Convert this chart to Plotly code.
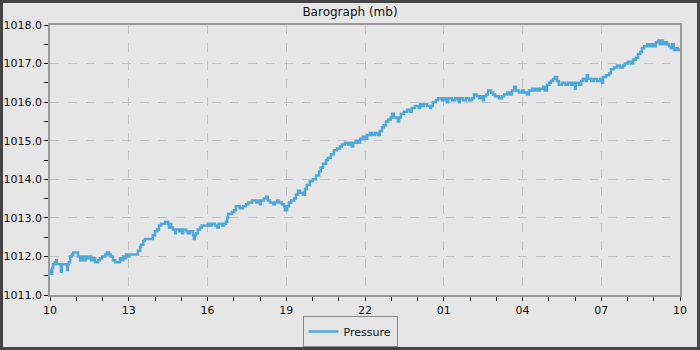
import pandas as pd
import plotly.graph_objects as go

# Minutes after the start (10:00) and pressure readings (mb)
minutes = [0, 2, 5, 7, 11, 14, 16, 23, 25, 27, 37, 39, 41, 43, 46, 50, 53, 62, 64, 69, 71, 75, 78, 80, 82, 87, 89, 94, 98,
           103, 110, 114, 119, 126, 130, 135, 139, 144, 149, 158, 160, 165, 167, 171, 174, 178, 181, 199, 201, 206, 208,
           213, 217, 233, 235, 240, 245, 249, 254, 263, 270, 272, 274, 277, 281, 286, 288, 295, 297, 302, 304, 311, 315,
           320, 327, 329, 331, 334, 338, 343, 347, 354, 361, 366, 370, 377, 382, 386, 393, 398, 402, 405, 407, 416, 421,
           425, 434, 441, 448, 453, 462, 471, 475, 480, 482, 489, 494, 498, 503, 510, 514, 519, 523, 530, 535, 537, 542,
           546, 551, 558, 562, 567, 571, 578, 583, 587, 594, 601, 608, 615, 619, 624, 631, 635, 642, 649, 656, 663, 667,
           674, 681, 686, 690, 693, 699, 704, 709, 715, 720, 725, 731, 736, 743, 750, 754, 759, 763, 768, 773, 779, 782,
           786, 793, 795, 798, 802, 809, 816, 823, 827, 834, 843, 846, 850, 855, 862, 869, 871, 875, 882, 887, 896, 901,
           907, 910, 919, 926, 933, 935, 937, 944, 951, 958, 965, 969, 976, 981, 985, 990, 992, 997, 1001, 1008, 1013,
           1017, 1026, 1033, 1038, 1045, 1051, 1056, 1061, 1065, 1072, 1079, 1083, 1090, 1095, 1102, 1106, 1111, 1115,
           1120, 1127, 1131, 1136, 1141, 1145, 1150, 1154, 1159, 1163, 1170, 1177, 1184, 1191, 1195, 1200, 1202, 1209,
           1214, 1218, 1225, 1227, 1230, 1237, 1243, 1250, 1257, 1262, 1264, 1271, 1278, 1282, 1289, 1296, 1303, 1310,
           1314, 1321, 1328, 1333, 1339, 1344, 1349, 1353, 1358, 1365, 1371, 1376, 1381, 1385, 1390, 1394, 1397, 1401,
           1406, 1410, 1415, 1419, 1422, 1426, 1431, 1435, 1440]

pressure = [1011.65, 1011.55, 1011.70, 1011.80, 1011.85, 1011.90, 1011.80, 1011.80, 1011.60, 1011.80, 1011.80, 1011.65,
            1011.80, 1011.85, 1012.00, 1012.05, 1012.10, 1012.10, 1012.00, 1011.90, 1012.00, 1011.90, 1012.00, 1011.90,
            1012.00, 1011.95, 1012.00, 1011.90, 1011.95, 1011.85, 1011.90, 1011.95, 1012.00, 1012.05, 1012.10, 1012.05,
            1012.00, 1011.90, 1011.85, 1011.85, 1011.95, 1011.90, 1012.00, 1011.95, 1012.05, 1012.00, 1012.05, 1012.05,
            1012.15, 1012.25, 1012.30, 1012.40, 1012.45, 1012.45, 1012.55, 1012.65, 1012.70, 1012.80, 1012.85, 1012.90,
            1012.85, 1012.75, 1012.85, 1012.75, 1012.70, 1012.60, 1012.70, 1012.65, 1012.70, 1012.60, 1012.70, 1012.65,
            1012.60, 1012.65, 1012.55, 1012.45, 1012.55, 1012.60, 1012.70, 1012.75, 1012.80, 1012.80, 1012.85, 1012.80,
            1012.85, 1012.80, 1012.75, 1012.85, 1012.80, 1012.85, 1012.90, 1013.00, 1013.10, 1013.15, 1013.20, 1013.30,
            1013.25, 1013.30, 1013.35, 1013.40, 1013.45, 1013.40, 1013.45, 1013.35, 1013.45, 1013.50, 1013.55, 1013.45,
            1013.40, 1013.35, 1013.40, 1013.45, 1013.40, 1013.35, 1013.30, 1013.20, 1013.30, 1013.40, 1013.45, 1013.50,
            1013.60, 1013.70, 1013.65, 1013.60, 1013.75, 1013.85, 1013.95, 1014.00, 1014.10, 1014.20, 1014.30, 1014.40,
            1014.50, 1014.55, 1014.65, 1014.75, 1014.80, 1014.85, 1014.90, 1014.95, 1014.90, 1014.95, 1014.85, 1014.95,
            1015.00, 1014.95, 1015.05, 1015.10, 1015.05, 1015.15, 1015.20, 1015.15, 1015.20, 1015.15, 1015.25, 1015.35,
            1015.40, 1015.50, 1015.55, 1015.60, 1015.70, 1015.60, 1015.60, 1015.50, 1015.60, 1015.70, 1015.75, 1015.80,
            1015.75, 1015.85, 1015.90, 1015.85, 1015.95, 1015.90, 1015.95, 1015.90, 1015.85, 1015.90, 1016.00, 1016.05,
            1016.10, 1016.05, 1016.10, 1016.00, 1016.10, 1016.05, 1016.10, 1016.05, 1016.00, 1016.10, 1016.05, 1016.10,
            1016.05, 1016.10, 1016.20, 1016.15, 1016.10, 1016.15, 1016.05, 1016.15, 1016.20, 1016.30, 1016.25, 1016.20,
            1016.15, 1016.10, 1016.15, 1016.20, 1016.25, 1016.20, 1016.30, 1016.40, 1016.30, 1016.25, 1016.30, 1016.25,
            1016.20, 1016.30, 1016.35, 1016.30, 1016.35, 1016.30, 1016.35, 1016.40, 1016.30, 1016.45, 1016.50, 1016.55,
            1016.60, 1016.65, 1016.55, 1016.45, 1016.50, 1016.45, 1016.50, 1016.45, 1016.50, 1016.35, 1016.50, 1016.45,
            1016.55, 1016.60, 1016.55, 1016.70, 1016.60, 1016.55, 1016.60, 1016.55, 1016.60, 1016.50, 1016.65, 1016.70,
            1016.75, 1016.85, 1016.90, 1016.95, 1016.90, 1016.95, 1017.00, 1017.05, 1017.00, 1017.10, 1017.15, 1017.25,
            1017.30, 1017.40, 1017.45, 1017.50, 1017.45, 1017.50, 1017.45, 1017.55, 1017.60, 1017.50, 1017.60, 1017.50,
            1017.55, 1017.50, 1017.45, 1017.40, 1017.50, 1017.35, 1017.40, 1017.35, 1017.40]

start = pd.Timestamp("2024-01-01 10:00")
end = start + pd.Timedelta(hours=24)
times = [start + pd.Timedelta(minutes=m) for m in minutes]

BG = "#e6e6e6"
FONT = "DejaVu Sans"

fig = go.Figure()
fig.add_trace(go.Scatter(
    x=times, y=pressure, mode="lines", name="Pressure",
    line=dict(color="#4ea9da", width=2.5, shape="hv"),
))

axis_common = dict(
    showline=True, linecolor="#999999", linewidth=1.5, mirror=True,
    ticks="outside", ticklen=4, tickcolor="#111111", tickwidth=1,
    showgrid=True, gridcolor="#c2c2c2", griddash="dash", gridwidth=1,
    zeroline=False, automargin=False,
    tickfont=dict(family=FONT, size=11, color="#111111"),
)

fig.update_xaxes(
    type="date", range=[start, end], tick0=start, dtick=3 * 3600 * 1000,
    tickformat="%H",
    minor=dict(dtick=3600 * 1000, ticks="outside", ticklen=4, tickcolor="#111111", showgrid=False),
    **axis_common,
)
fig.update_yaxes(
    range=[1011, 1018], dtick=1, tick0=1011, tickformat=".1f",
    minor=dict(dtick=0.5, ticks="outside", ticklen=4, tickcolor="#111111", showgrid=False),
    **axis_common,
)

fig.update_layout(
    width=700, height=350,
    margin=dict(l=50, r=20, t=25, b=55, autoexpand=False),
    paper_bgcolor=BG, plot_bgcolor=BG,
    font=dict(family=FONT, size=11, color="#111111"),
    title=dict(text="Barograph (mb)", x=0.5, xanchor="center", xref="container",
               y=1 - 12 / 350, yanchor="middle", yref="container",
               font=dict(family=FONT, size=12, color="#111111")),
    showlegend=True,
    legend=dict(orientation="h", x=0.5, xanchor="center", xref="container",
                y=1 - 347 / 350, yanchor="bottom", yref="container",
                bgcolor=BG, bordercolor="#888888", borderwidth=1,
                itemwidth=30, font=dict(family=FONT, size=11, color="#111111")),
    shapes=[dict(type="rect", xref="paper", yref="paper",
                 x0=-50 / 630, x1=650 / 630, y0=-55 / 270, y1=295 / 270,
                 line=dict(color="#444444", width=6), fillcolor="rgba(0,0,0,0)", layer="above")],
)

fig.write_html("out.html", config={"displayModeBar": False},
               post_script="document.body.style.margin='0';document.body.style.padding='0';")
